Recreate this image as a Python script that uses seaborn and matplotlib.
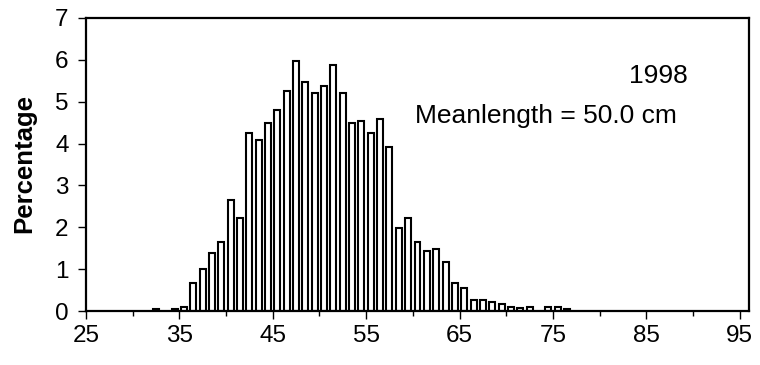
import matplotlib
matplotlib.use("Agg")
import matplotlib.pyplot as plt
from matplotlib.ticker import MultipleLocator
import seaborn as sns
import pandas as pd

# Length classes (cm, lower bound) and percentage in each class
lengths = [32, 34, 35, 36, 37, 38, 39, 40, 41, 42, 43, 44, 45, 46, 47, 48, 49,
           50, 51, 52, 53, 54, 55, 56, 57, 58, 59, 60, 61, 62, 63, 64, 65, 66,
           67, 68, 69, 70, 71, 72, 74, 75, 76]
percentages = [0.05, 0.05, 0.10, 0.66, 1.00, 1.39, 1.66, 2.65, 2.21, 4.25, 4.09,
               4.48, 4.81, 5.26, 5.98, 5.47, 5.20, 5.37, 5.87, 5.20, 4.48, 4.54,
               4.25, 4.59, 3.93, 1.99, 2.21, 1.66, 1.44, 1.49, 1.17, 0.66, 0.54,
               0.27, 0.27, 0.22, 0.16, 0.10, 0.06, 0.10, 0.10, 0.10, 0.05]
year_label = "1998"
mean_label = "Meanlength = 50.0 cm"
y_label = "Percentage"
x_ticks = [25, 35, 45, 55, 65, 75, 85, 95]
y_ticks = [0, 1, 2, 3, 4, 5, 6, 7]

sns.set_theme(style="white")
plt.rcParams["font.family"] = ["Liberation Sans", "DejaVu Sans"]

df = pd.DataFrame({"length": lengths, "pct": percentages})
df["mid"] = df["length"] + 0.5

fig = plt.figure(figsize=(7.6, 3.65), dpi=100)
ax = fig.add_axes([86 / 760, 1 - 311 / 365, (749 - 86) / 760, (311 - 18) / 365])

sns.barplot(data=df, x="mid", y="pct", native_scale=True, color="white",
            saturation=1, edgecolor="black", linewidth=1.5, width=0.64,
            errorbar=None, ax=ax)

ax.set_xlim(25, 96)
ax.set_ylim(0, 7)
ax.set_xticks(x_ticks)
ax.set_xticklabels([str(t) for t in x_ticks])
ax.xaxis.set_minor_locator(MultipleLocator(5))
ax.set_yticks(y_ticks)
ax.set_yticklabels([str(t) for t in y_ticks])
ax.set_xlabel("")
ax.set_ylabel(y_label, fontsize=18.5, fontweight="bold", va="center",
              color="black")
ax.yaxis.set_label_coords((24 - 86) / 663, (311 - 163) / 293)

ax.tick_params(axis="x", which="major", direction="out", length=6, width=1,
               colors="black", labelsize=17.5, pad=4, bottom=True)
ax.tick_params(axis="x", which="minor", direction="out", length=3.5, width=1,
               colors="black", bottom=True)
ax.tick_params(axis="y", which="major", direction="out", length=5.5, width=1,
               colors="black", labelsize=17.5, pad=7, left=True)

for side in ["left", "right", "top", "bottom"]:
    ax.spines[side].set_visible(True)
    ax.spines[side].set_color("black")
    ax.spines[side].set_linewidth(1.6)

ax.text(658.5 / 760, 1 - 83 / 365, year_label, transform=fig.transFigure,
        ha="center", va="baseline", fontsize=19, color="black")
ax.text(415 / 760, 1 - 123 / 365, mean_label, transform=fig.transFigure,
        ha="left", va="baseline", fontsize=19, color="black")

ax.grid(False)
fig.savefig("out.png", dpi=100, facecolor="white")
